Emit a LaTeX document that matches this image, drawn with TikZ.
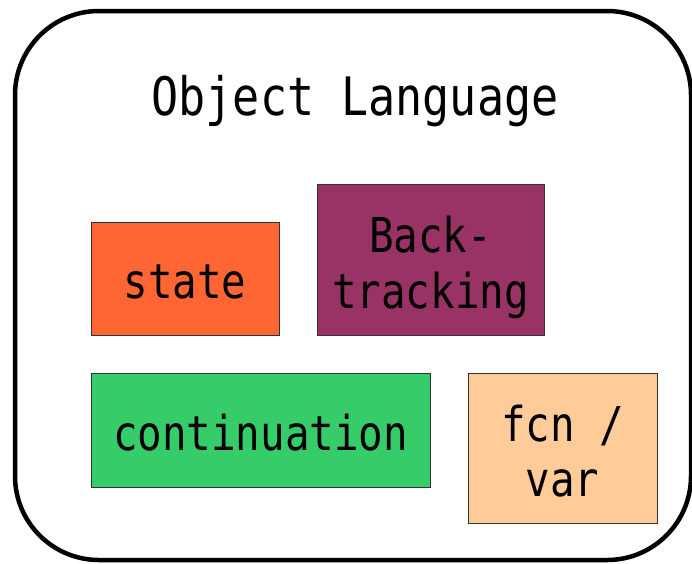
\documentclass[tikz,border=0pt]{standalone}
\usepackage{fontspec}
\setmainfont[FakeStretch=0.85]{DejaVu Sans Mono}
\definecolor{stateC}{HTML}{FF6633}
\definecolor{backC}{HTML}{993366}
\definecolor{contC}{HTML}{36CC6A}
\definecolor{fcnC}{HTML}{FFCC99}
\definecolor{edgeC}{HTML}{333333}
\tikzset{
  frame/.style={draw=black, line width=4.5pt, rounded corners=84pt},
  box/.style={draw=edgeC, line width=0.8pt, inner sep=0pt, align=center,
    font=\fontsize{48}{56}\selectfont},
  boxline/.style={anchor=base, inner sep=0pt, font=\fontsize{48}{56}\selectfont},
  heading/.style={font=\fontsize{53}{60}\selectfont, anchor=base, inner sep=0pt}
}
\begin{document}
\begin{tikzpicture}[x=1pt, y=-1pt]
\useasboundingbox (0,0) rectangle (692,563);
% outer frame
\draw[frame] (15,11) rectangle (691,560);
% title
\node[heading] (title) at (355,115) {Object Language};
% single-line boxes
\node[box, fill=stateC, minimum width=188pt, minimum height=113pt,
      text height=39pt, text depth=0pt] (state) at (185,278.5) {state};
\node[box, fill=contC, minimum width=339pt, minimum height=114pt,
      text height=40pt, text depth=0pt] (cont) at (260.5,430) {continuation};
% two-line boxes: frame first, then one node per line
\node[box, fill=backC, minimum width=227pt, minimum height=151pt] (back) at (430.5,259.5) {};
\node[boxline] (back1) at ([yshift=7.5pt]back.center) {Back-};
\node[boxline] (back2) at ([yshift=-48.5pt]back.center) {tracking};
\node[box, fill=fcnC, minimum width=189pt, minimum height=150pt] (fcn) at (562.5,448) {};
\node[boxline] (fcn1) at ([yshift=7pt]fcn.center) {fcn /};
\node[boxline] (fcn2) at ([yshift=-48pt]fcn.center) {var};
\end{tikzpicture}
\end{document}
